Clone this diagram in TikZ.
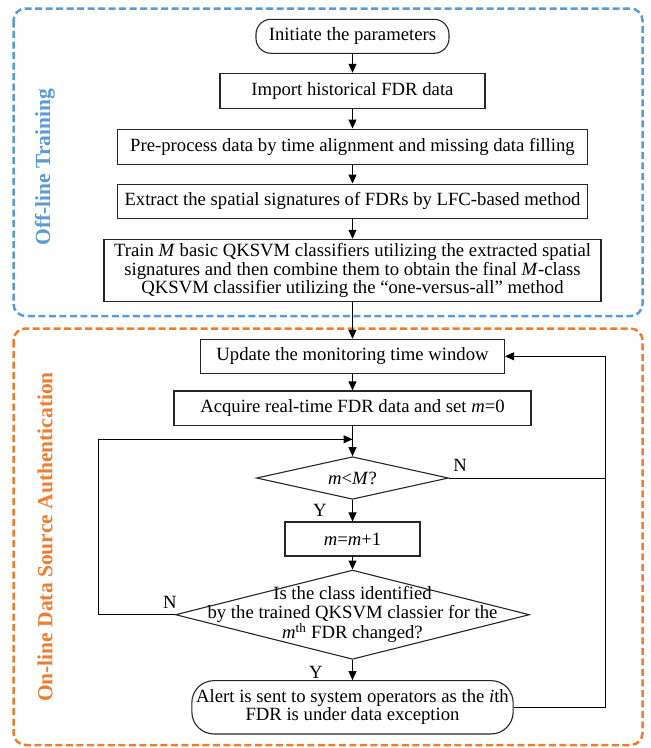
\documentclass[tikz,border=0pt]{standalone}
\usepackage{fontspec}
\setmainfont{Liberation Serif}
\usetikzlibrary{arrows.meta,shapes.geometric}
\definecolor{offblue}{HTML}{5B9BD5}
\definecolor{onorange}{HTML}{ED7D31}
\begin{document}
\begin{tikzpicture}[x=1pt,y=-1pt,
  every node/.style={font=\fontsize{18.7}{18.3}\selectfont},
  proc/.style={draw=black!85, line width=1.1pt, rectangle, inner sep=0pt, align=center},
  term/.style={proc, rounded corners=15pt},
  decision/.style={draw=black!85, line width=1.1pt, diamond, inner sep=0pt},
  arr/.style={-{Triangle[length=9pt,width=8pt]}, line width=1pt},
  ln/.style={line width=1pt},
  zone/.style={rounded corners=12pt, line width=2.5pt, dash pattern=on 7pt off 3.5pt},
  side/.style={rotate=90, font=\fontsize{21.5}{22}\selectfont\bfseries},
  yn/.style={inner sep=0pt},
]
\useasboundingbox (0,0) rectangle (651,748);

% zones
\draw[zone, offblue] (13.5,8.5) rectangle (642.5,316);
\draw[zone, onorange] (13.5,328.5) rectangle (642.5,745);
\node[side, text=offblue] (offlbl) at (45,167) {Off-line Training};
\node[side, text=onorange] (onlbl) at (45,537) {On-line Data Source Authentication};

% nodes
\node[term, minimum width=193pt, minimum height=34pt] (init) at (352.5,36.3) {Initiate the parameters};
\node[proc, minimum width=265pt, minimum height=35pt] (import) at (352.5,90.8) {Import historical FDR data};
\node[proc, minimum width=470.5pt, minimum height=35.3pt] (pre) at (352.5,146.7) {Pre-process data by time alignment and missing data filling};
\node[proc, minimum width=470.5pt, minimum height=34.3pt] (extract) at (352.5,201.2) {Extract the spatial signatures of FDRs by LFC-based method};
\node[proc, minimum width=497pt, minimum height=62.4pt] (train) at (352.5,270.5) {Train \textit{M} basic QKSVM classifiers utilizing the extracted spatial\\signatures and then combine them to obtain the final \textit{M}-class\\QKSVM classifier utilizing the “one-versus-all” method};
\node[proc, minimum width=304pt, minimum height=34pt] (update) at (352.5,356.3) {Update the monitoring time window};
\node[proc, minimum width=357pt, minimum height=34.7pt] (acquire) at (352.5,408.3) {Acquire real-time FDR data and set \textit{m}=0};
\node[decision, minimum width=192pt, minimum height=42.6pt] (d1) at (352.5,478) {};
\node (d1t) at (d1) {\textit{m}<\textit{M}?};
\node[proc, minimum width=135pt, minimum height=34pt] (mm) at (352.5,539) {\textit{m}=\textit{m}+1};
\node[decision, minimum width=354pt, minimum height=89.3pt] (d2) at (352.5,614.7) {};
\node[align=center, inner sep=0pt] (d2t) at (d2) {Is the class identified\\by the trained QKSVM classier for the\\\textit{m}\textsuperscript{th} FDR changed?};
\node[term, rounded corners=22pt, minimum width=321.3pt, minimum height=53.3pt] (alert) at (352.5,707.3) {Alert is sent to system operators as the \textit{i}th\\FDR is under data exception};

% labels
\node[yn] (n1) at (460,465) {N};
\node[yn] (y1) at (320,510) {Y};
\node[yn] (n2) at (170,602) {N};
\node[yn] (y2) at (316,672) {Y};

% helper coordinates
\coordinate (join) at (352.5,439.3);
\coordinate (rt) at (605,478);

% connectors
\draw[arr] (init) -- (import);
\draw[arr] (import) -- (pre);
\draw[arr] (pre) -- (extract);
\draw[arr] (extract) -- (train);
\draw[arr] (train) -- (update);
\draw[arr] (update) -- (acquire);
\draw[arr] (acquire) -- (d1);
\draw[arr] (d1) -- (mm);
\draw[arr] (mm) -- (d2);
\draw[arr] (d2) -- (alert);
\draw[arr] (d2.west) -- (98,614.7) |- (join);
\draw[arr] (d1.east) -- (rt) |- (update.east);
\draw[ln] (alert.east) -| (rt);
\end{tikzpicture}
\end{document}
